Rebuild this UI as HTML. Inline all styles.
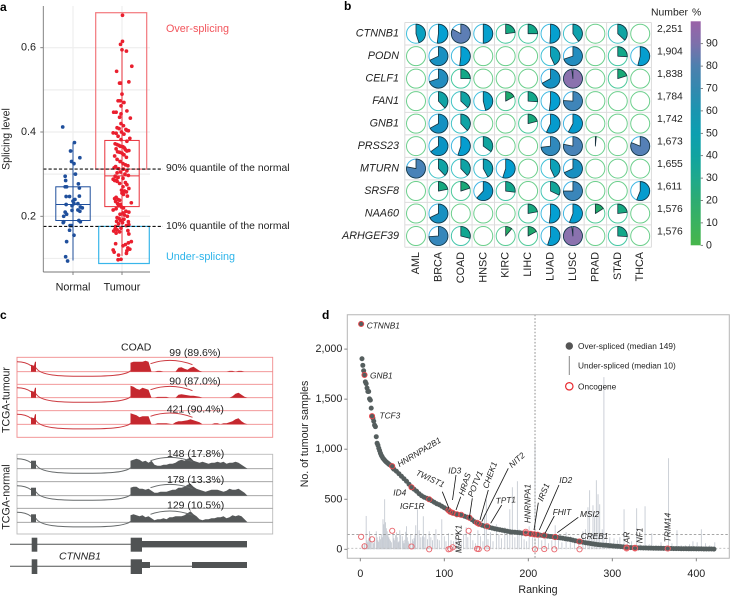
<!DOCTYPE html>
<html lang="en"><head><meta charset="utf-8"><title>Splicing figure</title>
<style>
html,body{margin:0;padding:0;background:#fff}
svg{display:block;filter:blur(0.3px)}
text{font-family:"Liberation Sans",sans-serif;fill:#222;dominant-baseline:central}
.it{font-style:italic}
.lab{font-weight:bold;font-size:12px;fill:#000}
</style></head><body>
<svg id="fig" width="730" height="596" viewBox="0 0 730 596" xmlns="http://www.w3.org/2000/svg">
<rect width="730" height="596" fill="#fff"/>
<text class="lab" x="0" y="7">a</text>
<text class="lab" x="344" y="6">b</text>
<text class="lab" x="0" y="315">c</text>
<text class="lab" x="322" y="315">d</text>

<g id="pa"></g>
<text font-size="10.6" transform="translate(6.5,139) rotate(-90)" text-anchor="middle">Splicing level</text>
<text x="166" y="29" font-size="10.8" style="fill:#f2555c">Over-splicing</text>
<text x="166" y="257" font-size="10.8" style="fill:#2db4ea">Under-splicing</text>
<text x="166" y="168.5" font-size="10.4">90% quantile of the normal</text>
<text x="166" y="226.3" font-size="10.4">10% quantile of the normal</text>

<g id="pb"></g>
<text x="651" y="13" font-size="10.4">Number</text>
<text x="692" y="13" font-size="10.4">%</text>

<g id="pc"></g>
<text x="121" y="347.5" font-size="10.5">COAD</text>
<text font-size="10.6" transform="translate(6.5,400) rotate(-90)" text-anchor="middle">TCGA-tumour</text>
<text font-size="10.6" transform="translate(6.5,497) rotate(-90)" text-anchor="middle">TCGA-normal</text>
<text class="it" x="59" y="556.5" font-size="10.5">CTNNB1</text>

<g id="pd"></g>
<text font-size="10.6" transform="translate(305,434) rotate(-90)" text-anchor="middle">No. of tumour samples</text>
<text x="538" y="590" font-size="10.7" text-anchor="middle">Ranking</text>
</svg>
<script>
// ---------- Panel a data ----------
const splicingTicks = [0.2, 0.4, 0.6];
const splicingGrid = [0.1, 0.2, 0.3, 0.4, 0.5, 0.6];
const groupNames = ['Normal', 'Tumour'];
const normalBox = [0.0950, 0.190, 0.228, 0.270, 0.375];
const tumourBox = [0.106, 0.223, 0.296, 0.380, 0.600];
const normalQuantile90 = 0.312;
const normalQuantile10 = 0.176;
const overRange = [0.312, 0.683];
const underRange = [0.088, 0.176];
const normalSplicing = [.412,.375,.355,.339,.33,.325,.3,.295,.285,.277,.267,.27,.27,.247,.247,.248,.24,.236,.23,.228,.23,.225,.222,.22,.215,.212,.214,.21,.205,.2,.187,.185,.187,.19,.178,.178,.167,.155,.14,.104,.094];
const normalJitter = [-.21,.03,-.05,.14,-.03,.02,.05,-.16,-.15,.11,.13,-.16,-.13,-.14,-.07,.13,.04,0,.1,-.14,.02,-.02,.15,.19,.1,.14,-.02,-.16,-.13,-.19,-.19,-.2,.15,.12,-.06,-.03,-.07,.02,-.13,-.15,-.11];
const tumourSplicing = [.677,.615,.608,.595,.592,.556,.544,.516,.516,.519,.49,.474,.474,.47,.462,.45,.447,.447,.443,.435,.433,.42,.415,.41,.408,.406,.404,.403,.4,.398,.397,.395,.39,.385,.382,.378,.372,.37,.368,.366,.365,.362,.36,.358,.356,.355,.353,.352,.35,.346,.343,.34,.335,.33,.325,.322,.32,.318,.315,.313,.312,.308,.305,.303,.3,.297,.295,.292,.29,.288,.286,.285,.283,.28,.278,.275,.27,.266,.262,.26,.258,.255,.252,.248,.245,.242,.24,.238,.235,.232,.23,.228,.225,.222,.22,.218,.215,.212,.21,.208,.205,.203,.2,.197,.195,.193,.19,.188,.187,.185,.182,.18,.178,.176,.172,.17,.168,.166,.165,.163,.16,.158,.14,.137,.135,.133,.13,.125,.122,.12,.118,.115,.112,.108,.097,.098];
const tumourJitter = [.01,.01,-.03,0,.09,.2,-.11,-.05,-.03,.14,0,-.08,-.04,.04,-.02,.1,-.17,-.12,-.02,-.05,.17,-.02,.03,-.1,-.06,.08,.1,.13,-.01,-.18,-.12,.04,-.08,.16,-.02,.1,-.14,-.1,-.06,-.03,.02,.05,-.12,.07,.14,.1,-.09,-.05,0,.04,-.15,.09,-.1,-.04,.02,.07,.12,-.13,-.16,-.07,.03,.1,-.03,-.1,.06,.13,-.14,-.08,.02,-.18,-.12,-.15,-.1,.07,-.05,.1,.02,.14,-.01,.05,.09,0,.03,.11,-.12,-.15,-.08,-.05,-.13,.19,-.09,-.03,-.07,-.01,.03,-.12,-.18,.08,.14,.02,-.04,.05,.11,-.1,-.06,.04,-.03,-.11,.13,.01,-.07,.14,.09,-.13,-.02,-.14,-.1,.12,-.17,-.05,-.12,.14,.19,.13,-.13,.07,.02,.12,.16,-.18,.1,-.16,.09,-.07,-.08,-.02];

// ---------- Panel b data ----------
const genes = ['CTNNB1','PODN','CELF1','FAN1','GNB1','PRSS23','MTURN','SRSF8','NAA60','ARHGEF39'];
const geneCounts = ['2,251','1,904','1,838','1,784','1,742','1,673','1,655','1,611','1,576','1,576'];
const cancers = ['AML','BRCA','COAD','HNSC','KIRC','LIHC','LUAD','LUSC','PRAD','STAD','THCA'];
const pct_CTNNB1 = [45,52,83,50,23,25,51,40,0,37,0];
const pct_PODN = [0,68,52,0,0,0,43,70,0,26,54];
const pct_CELF1 = [0,70,25,0,0,0,67,98,0,20,0];
const pct_FAN1 = [0,38,37,46,17,26,52,76,0,0,0];
const pct_GNB1 = [0,67,38,0,0,21,57,58,0,0,0];
const pct_PRSS23 = [0,65,55,35,0,0,73,78,1.5,0,81];
const pct_MTURN = [78,38,38,42,55,0,43,68,0,0,0];
const pct_SRSF8 = [0,22,20,62,27,0,32,75,0,0,56];
const pct_NAA60 = [0,68,0,0,0,22,52,56,16,23,0];
const pct_ARHGEF39 = [0,74,29,0,11,17,55,98,0,26,0];
const pctRows = [pct_CTNNB1,pct_PODN,pct_CELF1,pct_FAN1,pct_GNB1,pct_PRSS23,pct_MTURN,pct_SRSF8,pct_NAA60,pct_ARHGEF39];
const colourTicks = [0,10,20,30,40,50,60,70,80,90];

// ---------- Panel c data ----------
const readLabels = ['99 (89.6%)','90 (87.0%)','421 (90.4%)','148 (17.8%)','178 (13.3%)','129 (10.5%)'];
const covT1 = [9,10,10,10,10,11,10,0,0,.8,.8,0,0,0,0,0,4,4.5,3,2,4,5,3,1,0,0,0,0,0,0,0,0,0,.8,.8,0,.8,.8,0,0];
const covT2 = [12,11,9,8,10,9,8,0,0,.8,.8,.8,.8,0,0,0,3,3.5,3,2.5,2,2,1.5,1,0,0,0,0,0,0,0,0,0,0,1.5,4,5,3,1,0];
const covT3 = [11,10,9,7,8,8,8,0,0,1,1,1,1,.5,0,2,3,3,3.5,4,5,4,3,2,0,0,0,0,1,1,0,1,1,2,3,5,6,3,1,0];
const covN1 = [8,9,10,9,7,8,6,8,4,3,3,4,4,5,5,6,8,9,8,10,11,8,7,6,7,6,5,6,6,7,6,7,5,6,6,7,6,4,2,0];
const covN2 = [8,9,9,7,7,6,7,5,3,3,4,4,4,5,6,6,8,8,9,11,12,9,7,6,5,4,5,6,6,6,5,4,5,7,6,6,7,5,3,0];
const covN3 = [7,8,7,6,7,5,6,4,2,3,3,4,3,5,5,6,6,6,7,9,11,8,6,3,2,3,3,4,4,5,5,6,4,5,7,6,7,6,3,0];
const coverageRows = [covT1,covT2,covT3,covN1,covN2,covN3];

// ---------- Panel d data ----------
const rankXTicks = [0,100,200,300,400];
const rankYTicks = [0,500,1000,1500,2000];
const rankYLabels = ['0','500','1,000','1,500','2,000'];
const medianOver = 149;
const medianUnder = 10;
const medianOverRank = 208;
const overHeadValues = [2251,1904,1838,1784,1742,1673,1655,1611,1576,1576,1503,1490,1410,1330,1310,1280,1240,1225,1125,1060,1040,1010,985,960,940,925,910,900,890,880,872,865,858,850,845,840,835,830,810,800];
const overTailValues = [780,755,730,705,680,650,620,600,580,555,535,520,510,500,485,470,455,445,430,415,400,380,365,358,352,345,340,330,322,315,295,275,262,250,240,232,225,218,212,205,200,195,190,185,180,175,172,170,168,165,162,160,157,155,152,149,146,142,138,135,131,128,125,122,118,114,110,106,102,98,92,86,80,75,70,66,62,58,54,50,47,44,42,40,38,35,33,31,29,27,24,20,18,17,16,15,14,14,13,13,12,12,11,11,10,10,9,9,8,8,7,7,7,6,6,6,5,5,5,4,4,4,3,3,3,3,2];
const underRanks = [3,5,7,8,9,10,11,12,13,15,16,17,19,20,21,22,23,24,25,26,27,28,29,30,31,32,33,34,35,36,37,39,40,41,42,43,44,45,46,47,48,50,51,52,53,54,55,56,57,58,60,62,63,64,65,66,68,70,72,74,75,76,78,80,82,84,86,88,90,92,94,97,100,102,105,108,111,114,117,120,123,126,128,131,134,137,140,143,146,148,150,152,155,158,162,165,168,172,175,178,181,184,187,189,192,195,198,201,205,208,212,216,220,224,228,232,236,240,245,250,255,260,265,268,271,273,275,277,279,281,283,285,288,290,293,297,302,306,309,314,318,323,329,333,339,344,347,352,358,367,371,377,382,387,392,396,401,406,411,416,422];
const underValues = [40,60,333,90,70,110,180,130,80,70,60,110,180,120,90,75,130,100,150,120,300,250,500,270,210,180,140,120,100,85,70,150,110,90,140,170,120,70,80,190,150,130,85,60,95,175,230,120,80,60,150,100,80,110,140,240,400,190,120,130,330,120,150,100,180,120,90,150,200,100,90,300,130,80,160,90,80,120,100,70,150,220,120,170,90,60,190,130,80,350,500,100,170,80,250,150,110,220,160,400,620,120,680,200,150,100,80,230,120,1060,170,90,170,60,90,240,120,70,170,130,100,70,180,200,420,590,150,440,330,690,550,450,200,1720,100,120,110,90,120,400,60,80,410,50,430,50,160,40,70,910,60,190,40,40,50,80,70,200,60,40,70];
const oncoCurveRanks = [1,5,14,38,61,82,105,107,110,115,120,130,139,141,151,197,203,207,211,219,232,261,317,327,366];
const oncoCurveValues = [2251,1742,1330,830,620,500,390,375,365,350,345,315,265,255,230,160,155,150,146,138,122,78,18,15,8];
const oncoUnderRanks = [1,5,14,38,61,82,105,107,110,129,139,141,151,197,208,219,231,261,317,327,366];
const oncoUnderValues = [125,30,100,185,28,0,0,5,20,185,5,2,8,175,0,2,0,0,8,8,8];
const geneNames = ['CTNNB1','GNB1','TCF3','HNRNPA2B1','ID4','IGF1R','TWIST1','ID3','HRAS','POTV1','CHEK1','NIT2','TPT1','MAPK1','HNRNPA1','IRS1','ID2','FHIT','MSI2','CREB1','AR','NF1','TRIM14'];

// ---------- helpers ----------
const NS = 'http://www.w3.org/2000/svg';
function mk(tag, attrs, parent){
  const el = document.createElementNS(NS, tag);
  for (const k in attrs) el.setAttribute(k, attrs[k]);
  parent.appendChild(el);
  return el;
}
function lerpHex(a,b,t){
  const pa=[1,3,5].map(i=>parseInt(a.substr(i,2),16)), pb=[1,3,5].map(i=>parseInt(b.substr(i,2),16));
  return 'rgb('+pa.map((v,i)=>Math.round(v+(pb[i]-v)*t)).join(',')+')';
}
function ramp(stops,v){
  for(let i=1;i<stops.length;i++){
    if(v<=stops[i][0]){
      return lerpHex(stops[i-1][1],stops[i][1],(v-stops[i-1][0])/(stops[i][0]-stops[i-1][0]));
    }
  }
  return stops[stops.length-1][1];
}

// ---------- Panel a ----------
(function(){
  const g = document.getElementById('pa');
  const y = v => 216.3 - (v - 0.2) * 421.5;
  const catX = i => 73 + i * 49;
  const LEFT = 43.3, BOTTOM = 272, RIGHT = 150;
  splicingGrid.forEach(v=>{
    const l = mk('line',{x1:LEFT,x2:RIGHT,y1:y(v),y2:y(v),stroke:'#eeeeee','stroke-width':1.2},g);
    
    
  });
  groupNames.forEach((n,i)=>{
    const l = mk('line',{x1:catX(i),x2:catX(i),y1:6,y2:BOTTOM,stroke:'#eeeeee','stroke-width':1.2},g);
    
    
  });
  const over = mk('rect',{x:95.7,width:51,y:y(overRange[1]),height:y(overRange[0])-y(overRange[1]),fill:'none',stroke:'#f2777c','stroke-width':1.2},g);
  
  
  const under = mk('rect',{x:98.7,width:50.6,y:y(underRange[1]),height:y(underRange[0])-y(underRange[1]),fill:'none',stroke:'#38b6ea','stroke-width':1.2},g);
  
  
  [[normalBox,'#1f4f9c',0],[tumourBox,'#e8303a',1]].forEach(([b,c,i])=>{
    const cx = catX(i);
    const wh = mk('line',{x1:cx,x2:cx,y1:y(b[4]),y2:y(b[0]),stroke:c,'stroke-width':1},g);
    
    
    const box = mk('rect',{x:cx-17.2,width:34.4,y:y(b[3]),height:y(b[1])-y(b[3]),fill:'none',stroke:c,'stroke-width':1},g);
    
    
    const med = mk('line',{x1:cx-17.2,x2:cx+17.2,y1:y(b[2]),y2:y(b[2]),stroke:c,'stroke-width':1},g);
    
    
  });
  normalSplicing.forEach((v,i)=>{
    const c = mk('circle',{cx:catX(0)+normalJitter[i]*49,cy:y(v),r:1.85,fill:'#1f4f9c'},g);
    
    
  });
  tumourSplicing.forEach((v,i)=>{
    const c = mk('circle',{cx:catX(1)+tumourJitter[i]*49,cy:y(v),r:1.85,fill:'#ea1f2e'},g);
    
    
  });
  [normalQuantile90,normalQuantile10].forEach(v=>{
    const l = mk('line',{x1:LEFT,x2:163,y1:y(v),y2:y(v),stroke:'#111','stroke-width':1.1,'stroke-dasharray':'3.2 2'},g);
    
    
  });
  const ay = mk('line',{x1:LEFT,x2:LEFT,y1:6,y2:BOTTOM,stroke:'#777','stroke-width':0.9},g);
  
  
  const ax = mk('line',{x1:LEFT,x2:RIGHT,y1:BOTTOM,y2:BOTTOM,stroke:'#777','stroke-width':0.9},g);
  
  
  splicingTicks.forEach(v=>{
    const t = mk('line',{x1:LEFT-3,x2:LEFT,y1:y(v),y2:y(v),stroke:'#777','stroke-width':0.9},g);
    
    
    const lb = mk('text',{x:36,y:y(v),'text-anchor':'end','font-size':10.8},g);
    lb.textContent = v.toFixed(1);
    
    
  });
  groupNames.forEach((n,i)=>{
    const t = mk('line',{x1:catX(i),x2:catX(i),y1:BOTTOM,y2:BOTTOM+3,stroke:'#777','stroke-width':0.9},g);
    
    
    const lb = mk('text',{x:catX(i),y:287.5,'text-anchor':'middle','font-size':10.8},g);
    lb.textContent = n;
    
    
  });
})();

// ---------- Panel b ----------
(function(){
  const g = document.getElementById('pb');
  const colX = i => 416 + i * 22.42;
  const rowY = i => 33.7 + i * 22.48;
  const R = 9.5;
  const pieStops = [[0,'#2fb45a'],[15,'#1fa966'],[25,'#12a888'],[38,'#10a3a5'],[45,'#0aa0c0'],[52,'#04a0d2'],[65,'#0a94c4'],[75,'#3a86ba'],[82,'#5a7fb5'],[97,'#8a72ae'],[100,'#8a72ae']];
  const ringStops = [[0,'#6ccf8c'],[25,'#45c8a0'],[45,'#3fc0dc'],[60,'#3fb4e4'],[100,'#3fb4e4']];
  for(let i=0;i<=cancers.length;i++){
    const l = mk('line',{x1:colX(i)-11.2,x2:colX(i)-11.2,y1:rowY(0)-11.2,y2:rowY(9)+11.2,stroke:'#dcdcdc','stroke-width':1},g);
    
    
  }
  for(let i=0;i<=genes.length;i++){
    const l = mk('line',{x1:colX(0)-11.2,x2:colX(10)+11.2,y1:rowY(i)-11.2,y2:rowY(i)-11.2,stroke:'#dcdcdc','stroke-width':1},g);
    
    
  }
  pctRows.forEach((row,r)=>{
    const gl = mk('text',{x:399,y:rowY(r),'text-anchor':'end','font-size':10.8,'class':'it'},g);
    gl.textContent = genes[r];
    
    
    const nl = mk('text',{x:657,y:rowY(r)-4,'font-size':10.3},g);
    nl.textContent = geneCounts[r];
    
    
    row.forEach((p,c)=>{
      const cx = colX(c), cy = rowY(r);
      const ring = mk('circle',{cx:cx,cy:cy,r:R,fill:'#fff',stroke:ramp(ringStops,p),'stroke-width':1},g);
      
      
      if(p>0){
        const a = p/100*2*Math.PI;
        const ex = cx+R*Math.sin(a), ey = cy-R*Math.cos(a);
        const w = mk('path',{d:`M${cx},${cy}L${cx},${cy-R}A${R},${R} 0 ${p>50?1:0} 1 ${ex},${ey}Z`,fill:ramp(pieStops,p),stroke:'#17303c','stroke-width':0.8,'stroke-linejoin':'round'},g);
        
        
      }
    });
  });
  cancers.forEach((n,i)=>{
    const t = mk('text',{transform:`translate(${colX(i)},252) rotate(-90)`,'text-anchor':'end','font-size':10.8},g);
    t.textContent = n;
    
    
  });
  const defs = mk('defs',{},g);
  const lg = mk('linearGradient',{id:'cbar',x1:0,y1:1,x2:0,y2:0},defs);
  const barStops = [[0,'#47b64a'],[10,'#3ab25f'],[20,'#2dac72'],[30,'#1ea98c'],[40,'#10a3a0'],[50,'#0d9fb0'],[60,'#1a95b0'],[70,'#3389af'],[80,'#4d80ae'],[90,'#7d70ab'],[100,'#9a62a8']];
  barStops.forEach(s=>mk('stop',{offset:s[0]+'%','stop-color':s[1]},lg));
  const cy = v => 245.3 - v*2.24;
  const bar = mk('rect',{x:690.7,width:10,y:cy(100),height:224,fill:'url(#cbar)'},g);
  
  
  colourTicks.forEach(v=>{
    const tk = mk('line',{x1:700.7,x2:703,y1:cy(v),y2:cy(v),stroke:'#555','stroke-width':0.7},g);
    
    
    const t = mk('text',{x:706,y:cy(v),'font-size':10.6},g);
    t.textContent = v;
    
    
  });
})();

// ---------- Panel c ----------
(function(){
  const g = document.getElementById('pc');
  const binX = i => 130.5 + i * 3;
  const frames = [
    {top:357.3,bottom:437.3,lines:[371.7,384.3,397.7,410.7,424.3],col:'#f08a8c'},
    {top:454.3,bottom:534,lines:[468.7,481.7,495.7,508.3,522.3],col:'#9a9a9a'}
  ];
  frames.forEach((f,i)=>{
    const r = mk('rect',{x:17,y:f.top,width:255.7,height:f.bottom-f.top,fill:'none',stroke:i?'#bbbbbb':f.col,'stroke-width':0.9},g);
    
    
    f.lines.forEach(y=>{
      const l = mk('line',{x1:17,x2:272.7,y1:y,y2:y,stroke:f.col,'stroke-width':0.9},g);
      
      
    });
  });
  const bases = [371.7,397.7,424.3,468.7,495.7,522.3];
  const labelY = [353,381.3,409.3,454,480,505.3];
  const labelX = [169.3,169.3,166.7,167,167,167];
  coverageRows.forEach((row,r)=>{
    const b = bases[r];
    const fill = r<3?'#c5282f':'#555859';
    const stroke = r<3?'#cc3a40':'#666a6b';
    const pts = [[binX(0),b]].concat(row.map((h,i)=>[binX(i),b-h]));
    pts.push([binX(row.length-1),b]);
    const cov = mk('polygon',{points:pts.map(p=>p.join(',')).join(' '),fill:fill},g);
    
    
    const ex = mk('polygon',{points:r<3?`31,${b} 31,${b-7} 34,${b-6} 35,${b-10} 36,${b-10} 36,${b}`:`31,${b} 31,${b-8} 36,${b-8} 36,${b}`,fill:fill},g);
    
    
    const inL = mk('path',{d:`M17,${b-10}C23,${b-10} 27,${b-9} 31,${b-6}`,fill:'none',stroke:stroke,'stroke-width':1},g);
    
    
    const low = mk('path',{d:`M36,${b-4}C40,${b+4} 60,${b+4.6} 83,${b+4.6}C106,${b+4.6} 126,${b+4} 130.5,${b-1}`,fill:'none',stroke:stroke,'stroke-width':1},g);
    
    
    const up = mk('path',{d:`M150.5,${b-8}Q171,${b-15} 192.5,${b-7}`,fill:'none',stroke:stroke,'stroke-width':1},g);
    
    
    const t = mk('text',{x:labelX[r],y:labelY[r],'font-size':10.5},g);
    t.textContent = readLabels[r];
    
    
  });
  const dark = '#505354';
  const models = [
    {y:544.3,rects:[[31.7,537.7,5.6,14],[130.7,537.7,11.3,14],[142,541,105,6.4]]},
    {y:566.3,rects:[[31.7,559.3,5.6,14.7],[130.7,559.3,11.3,14.7],[142,562,8,6],[192,562,55,6]]}
  ];
  models.forEach(m=>{
    const l = mk('line',{x1:10,x2:192,y1:m.y,y2:m.y,stroke:dark,'stroke-width':1},g);
    
    
    m.rects.forEach(q=>{
      const e = mk('rect',{x:q[0],y:q[1],width:q[2],height:q[3],fill:dark},g);
      
      
    });
  });
})();

// ---------- Panel d ----------
(function(){
  const g = document.getElementById('pd');
  const x = r => 360.3 + r * 0.84;
  const y = v => 549.3 - v * 0.1001;
  const L = 347.3, T = 314.7, R = 729.3, B = 558.3;
  underRanks.forEach((r,i)=>{
    const l = mk('line',{x1:x(r),x2:x(r),y1:y(0),y2:y(underValues[i]),stroke:'#c6cbd3','stroke-width':0.9},g);
    
    
  });
  const hOver = mk('line',{x1:L,x2:R,y1:y(medianOver),y2:y(medianOver),stroke:'#888','stroke-width':0.8,'stroke-dasharray':'2.5 2'},g);
  
  
  const hUnder = mk('line',{x1:L,x2:R,y1:y(medianUnder),y2:y(medianUnder),stroke:'#bbb','stroke-width':0.8,'stroke-dasharray':'2 2'},g);
  
  
  const vMed = mk('line',{x1:x(medianOverRank),x2:x(medianOverRank),y1:T,y2:B,stroke:'#8c8c8c','stroke-width':1,'stroke-dasharray':'1.6 1.8'},g);
  
  
  overHeadValues.forEach((v,i)=>{
    const c = mk('circle',{cx:x(i+1),cy:y(v),r:2.5,fill:'#555e5e'},g);
    
    
  });
  overTailValues.forEach((v,i)=>{
    const c = mk('circle',{cx:x(43+i*3),cy:y(v),r:2.5,fill:'#555e5e'},g);
    
    
  });
  oncoCurveRanks.forEach((r,i)=>{
    const c = mk('circle',{cx:x(r),cy:y(oncoCurveValues[i]),r:2.6,fill:'none',stroke:'#e8474c','stroke-width':0.9},g);
    
    
  });
  oncoUnderRanks.forEach((r,i)=>{
    const c = mk('circle',{cx:x(r),cy:y(oncoUnderValues[i]),r:2.6,fill:'none',stroke:'#e8636a','stroke-width':0.9},g);
    
    
  });
  const frame = mk('path',{d:`M${L},${B}V${T}H${R}V${B}Z`,fill:'none',stroke:'#b5b5b5','stroke-width':1},g);
  
  
  rankYTicks.forEach((v,i)=>{
    const t = mk('line',{x1:L-3,x2:L,y1:y(v),y2:y(v),stroke:'#777','stroke-width':0.9},g);
    
    
    const lb = mk('text',{x:L-5,y:y(v),'text-anchor':'end','font-size':10.7},g);
    lb.textContent = rankYLabels[i];
    
    
  });
  rankXTicks.forEach(v=>{
    const t = mk('line',{x1:x(v),x2:x(v),y1:B,y2:B+3,stroke:'#777','stroke-width':0.9},g);
    
    
    const lb = mk('text',{x:x(v),y:574,'text-anchor':'middle','font-size':10.7},g);
    lb.textContent = v;
    
    
  });
  // annotation placement per gene name: [x, y, rotation, leader or null]
  const place = {
    CTNNB1:[366.7,325.3,0,null], GNB1:[370,375.7,0,null], TCF3:[379.5,415.5,0,null],
    HNRNPA2B1:[398,464.5,-31,null], ID4:[393.3,492.7,0,null], IGF1R:[400,506,0,null],
    TWIST1:[416.5,472,25,[442.3,491.7,449,508.3]], ID3:[448.3,470.7,0,[456,475,452.5,500]],
    HRAS:[461,495,-72,[460.7,496.7,456,510]], POTV1:[470,496.5,-68,[472.3,498.3,469.3,518.3]],
    CHEK1:[485,488,-70,[488.3,490,480,520]], NIT2:[510,466,-42,[508.3,468.3,481.7,521.7]],
    TPT1:[495.7,500.7,-4,[501.7,505,490.7,523.3]], MAPK1:[458.7,553,-90,null],
    HNRNPA1:[527.3,523,-90,null], IRS1:[540,500.7,-68,[538.3,502.7,534,530]],
    ID2:[559.3,480,0,[559,485,539.3,530]], FHIT:[552.7,512,0,[554.3,516,545,533.3]],
    MSI2:[580,514,0,[578.3,517.3,557.3,532.7]], CREB1:[580.7,536,0,null],
    AR:[626.7,543.3,-90,null], NF1:[639.3,543.3,-90,null], TRIM14:[667.3,542.3,-90,null]
  };
  geneNames.forEach(n=>{
    const p = place[n];
    const t = mk('text',{transform:`translate(${p[0]},${p[1]}) rotate(${p[2]})`,'font-size':8.3,'class':'it'},g);
    t.textContent = n;
    
    
    if(p[3]){
      const l = mk('line',{x1:p[3][0],y1:p[3][1],x2:p[3][2],y2:p[3][3],stroke:'#111','stroke-width':0.8},g);
      
      
    }
  });
  const k1 = mk('circle',{cx:569.3,cy:346,r:3.7,fill:'#555'},g);
  
  
  const k2 = mk('line',{x1:569.3,x2:569.3,y1:356,y2:375,stroke:'#888','stroke-width':1},g);
  
  
  const k3 = mk('circle',{cx:569.3,cy:386.3,r:3.7,fill:'none',stroke:'#e82a30','stroke-width':1.2},g);
  
  
  const t1 = mk('text',{x:578,y:346,'font-size':8.3},g);
  t1.textContent = `Over-spliced (median ${medianOver})`;
  
  
  const t2 = mk('text',{x:578,y:365.7,'font-size':8.3},g);
  t2.textContent = `Under-spliced (median ${medianUnder})`;
  
  
  const t3 = mk('text',{x:578,y:386.3,'font-size':8.3},g);
  t3.textContent = 'Oncogene';
  
  
})();
</script>
</body></html>
